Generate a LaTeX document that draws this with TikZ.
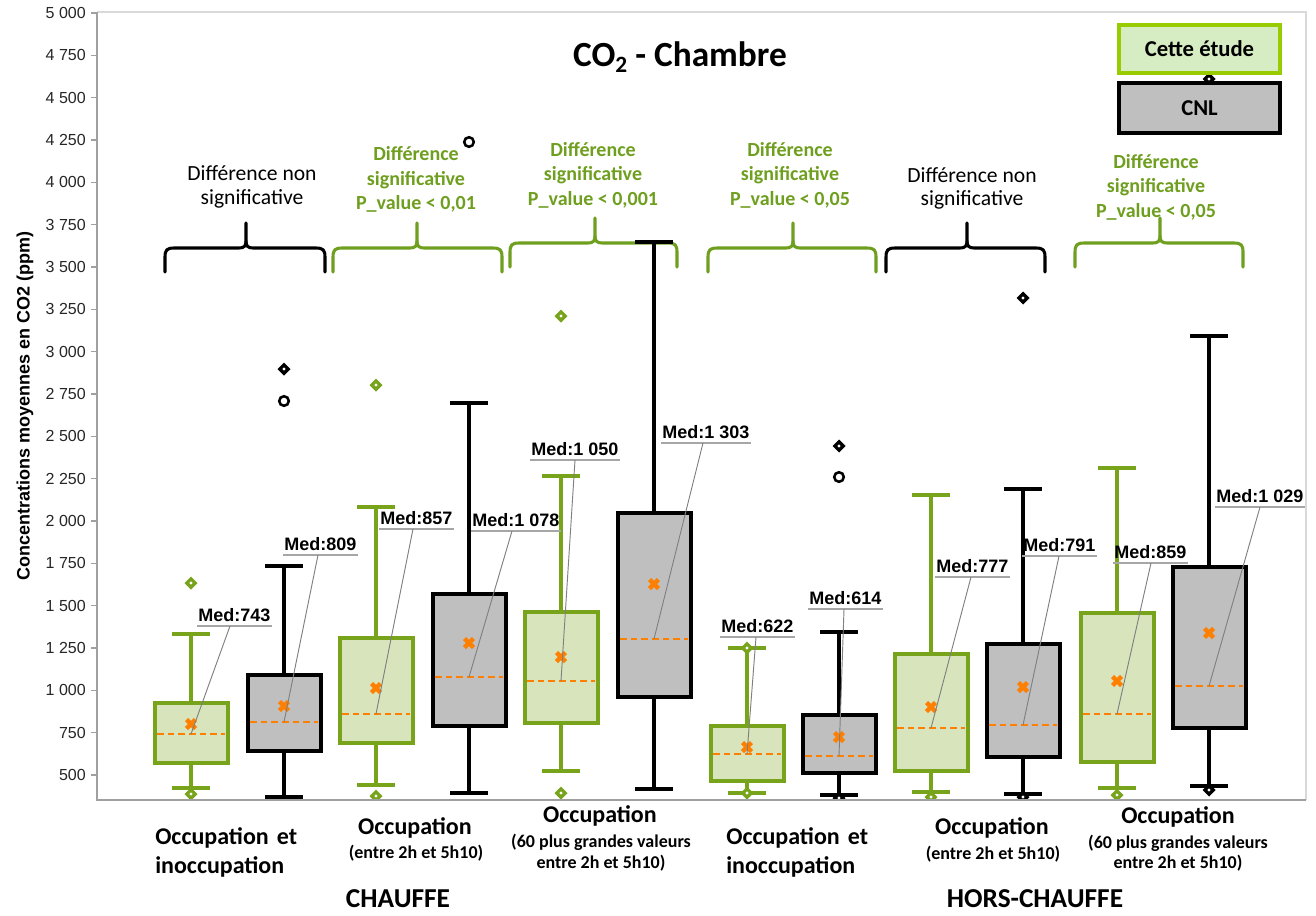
\documentclass[tikz,border=0pt]{standalone}
\usepackage{fontspec}
\setmainfont{Carlito}
\newfontfamily\arialf{Liberation Sans}
\definecolor{grnC}{HTML}{77A41B}
\definecolor{grnF}{HTML}{D8E4BC}
\definecolor{grnT}{HTML}{6F9F1F}
\definecolor{grayF}{HTML}{BFBFBF}
\definecolor{orng}{HTML}{FF7F00}
\definecolor{axisC}{HTML}{A0A0A0}
\definecolor{frameC}{HTML}{D9D9D9}
\definecolor{legG}{HTML}{99CC00}
\definecolor{legF}{HTML}{D6EDC4}
\definecolor{leadC}{HTML}{808080}
\definecolor{ulC}{HTML}{A6A6A6}
\tikzset{
 gwh/.style={draw=grnC, line width=3pt},
 kwh/.style={draw=black, line width=3pt},
 gbx/.style={draw=grnC, fill=grnF, line width=3pt},
 kbx/.style={draw=black, fill=grayF, line width=3pt},
 meddash/.style={draw=orng, line width=1.4pt, dash pattern=on 5pt off 3pt},
 meanst/.style={draw=orng, line width=3.4pt},
 bracest/.style={line width=2.3pt, line cap=round, line join=round},
 medtxt/.style={font=\arialf\bfseries\fontsize{13.5}{16}\selectfont, inner xsep=0.75pt, inner ysep=3pt},
 ulst/.style={draw=ulC, line width=1.2pt},
 leaderst/.style={draw=leadC, line width=0.7pt},
 ticklab/.style={font=\arialf\fontsize{12}{14}\selectfont, text=black!85, inner sep=0pt},
 sigtxt/.style={font=\bfseries\fontsize{15}{18.3}\selectfont, text=grnT, align=center, inner sep=0pt},
 nsigtxt/.style={font=\fontsize{16.2}{17.5}\selectfont, align=center, inner sep=0pt},
 catA/.style={font=\bfseries\fontsize{18}{22}\selectfont, inner sep=0pt},
 catB/.style={font=\bfseries\fontsize{13.5}{16}\selectfont, inner sep=0pt},
 seasonst/.style={font=\bfseries\fontsize{20.5}{24}\selectfont, inner sep=0pt},
}
% box: cx, top, bottom, median, mean, whisker top, whisker bottom, g/k, index
\newcommand\drawbox[9]{%
 \draw[#8wh] (#1,#6) -- (#1,#2) (#1,#3) -- (#1,#7) (#1-19,#6) -- (#1+19,#6) (#1-19,#7) -- (#1+19,#7);
 \draw[#8bx] (#1-36.5,#2) rectangle (#1+36.5,#3);
 \coordinate (m#9) at (#1,#4);
 \draw[meddash] (#1-34,#4) -- (#1+34,#4);
 \draw[meanst] (#1-4.5,#5-4.5) -- (#1+4.5,#5+4.5) (#1-4.5,#5+4.5) -- (#1+4.5,#5-4.5);
}
\newcommand\dmd[3]{\fill[#1] (#2,#3-6.5) -- (#2+6.5,#3) -- (#2,#3+6.5) -- (#2-6.5,#3) -- cycle; \fill[white] (#2,#3) circle (1.2pt);}
\newcommand\circo[2]{\draw[black, line width=1.9pt] (#1,#2) circle (3.6pt);}
\newcommand\medlabel[5]{%
 \node[medtxt, anchor=south west] (ml#1) at (#3,#4) {#2};
 \draw[ulst] (ml#1.south west) -- (ml#1.south east);
 \coordinate (mla#1) at (#5,#4);
 \draw[leaderst] (mla#1) -- (m#1);
}
% brace: L, R, tip x, h, tip y, bottom, color
\newcommand\brc[7]{%
 \draw[bracest,#7] (#1,#6) -- (#1,#4+9) .. controls (#1,#4+2) and (#1+2,#4) .. (#1+9,#4) -- (#3-7,#4) .. controls (#3-2,#4) and (#3,#4-2) .. (#3,#4-7) -- (#3,#5);
 \draw[bracest,#7] (#3,#4-7) .. controls (#3,#4-2) and (#3+2,#4) .. (#3+7,#4) -- (#2-9,#4) .. controls (#2-2,#4) and (#2,#4+2) .. (#2,#4+9) -- (#2,#6);
}
\begin{document}
\begin{tikzpicture}[x=0.75pt,y=-0.75pt]
\useasboundingbox (0,0) rectangle (1316,915);
\fill[white] (0,0) rectangle (1316,915);
% frame
\draw[frameC, line width=1pt] (97,12) -- (1306,12) -- (1306,800);
% ticks
\foreach \v/\t in {500/500,750/750,1000/1 000,1250/1 250,1500/1 500,1750/1 750,2000/2 000,2250/2 250,2500/2 500,2750/2 750,3000/3 000,3250/3 250,3500/3 500,3750/3 750,4000/4 000,4250/4 250,4500/4 500,4750/4 750,5000/5 000}{
 \pgfmathsetmacro\yy{775-(\v-500)*0.169333}
 \draw[axisC, line width=1pt] (91,\yy) -- (97,\yy);
 \node[ticklab, anchor=east] (t\v) at (86,\yy) {\t};
}
\node[rotate=90, font=\arialf\bfseries\fontsize{13.5}{16}\selectfont, inner sep=0pt] (ytitle) at (25,406) {Concentrations moyennes en CO2 (ppm)};
% title
\node[font=\bfseries\fontsize{26.5}{31}\selectfont, inner sep=0pt] (title) at (680,57) {CO{\fontsize{17.5}{20}\selectfont\raisebox{-4pt}{2}} - Chambre};
% braces
\brc{165}{325}{246}{248}{223}{272}{black}
\brc{333}{502}{417}{248}{223}{272}{grnT}
\brc{510}{677}{595}{243}{218}{267}{grnT}
\brc{708}{876}{793}{248}{223}{272}{grnT}
\brc{886}{1045}{967}{248}{223}{272}{black}
\brc{1075}{1243}{1160}{243}{218}{267}{grnT}
% brace labels
\node[nsigtxt] (s1) at (252,187) {Différence non\\significative};
\node[sigtxt] (s2) at (416,179.5) {Différence\\significative\\P\_value < 0,01};
\node[sigtxt] (s3) at (593,175) {Différence\\significative\\P\_value < 0,001};
\node[sigtxt] (s4) at (790,175) {Différence\\significative\\P\_value < 0,05};
\node[nsigtxt] (s5) at (972,188.5) {Différence non\\significative};
\node[sigtxt] (s6) at (1156,187) {Différence\\significative\\P\_value < 0,05};
% plot content
\begin{scope}
\clip (97,12) rectangle (1306,800);
\drawbox{191}{703}{763}{734}{724}{634}{788}{g}{1}
\drawbox{284}{675}{751}{722}{706}{566}{797}{k}{2}
\drawbox{376}{638}{743}{714}{688}{507}{785}{g}{3}
\drawbox{469}{594}{726}{677}{643}{403}{793}{k}{4}
\drawbox{561}{612}{723}{681}{657}{476}{771}{g}{5}
\drawbox{654}{513}{697}{639}{584}{242}{789}{k}{6}
\drawbox{747}{726}{781}{754}{747}{648}{793}{g}{7}
\drawbox{839}{715}{773}{756}{737}{632}{795}{k}{8}
\drawbox{931}{654}{771}{728}{707}{495}{792}{g}{9}
\drawbox{1023}{644}{757}{725}{687}{489}{794}{k}{10}
\drawbox{1117}{613}{762}{714}{681}{468}{788}{g}{11}
\drawbox{1209}{567}{728}{686}{633}{336}{786}{k}{12}
% outliers
\dmd{grnC}{191}{583} \dmd{grnC}{191}{794}
\dmd{black}{284}{369} \circo{284}{401}
\dmd{grnC}{376}{385} \dmd{grnC}{376}{796}
\circo{469}{142}
\dmd{grnC}{561}{316} \dmd{grnC}{561}{793}
\dmd{grnC}{747}{648} \dmd{grnC}{747}{793}
\dmd{black}{839}{446} \circo{839}{477} \dmd{black}{839}{798}
\dmd{grnC}{931}{797}
\dmd{black}{1023}{298} \dmd{black}{1023}{797}
\dmd{grnC}{1117}{795}
\dmd{black}{1209}{790} \dmd{black}{1209}{79}
\end{scope}
% axes
\draw[axisC, line width=1.3pt] (97,12) -- (97,800) -- (1306,800);
% median labels
\medlabel{1}{Med:743}{197}{626}{230}
\medlabel{2}{Med:809}{283}{555}{318}
\medlabel{3}{Med:857}{379}{529}{413}
\medlabel{4}{Med:1 078}{471}{531}{512}
\medlabel{5}{Med:1 050}{530}{460}{575}
\medlabel{6}{Med:1 303}{661}{443}{703}
\medlabel{7}{Med:622}{720}{637}{756}
\medlabel{8}{Med:614}{808}{609}{844}
\medlabel{9}{Med:777}{935}{577}{971}
\medlabel{10}{Med:791}{1022}{556}{1059}
\medlabel{11}{Med:859}{1113}{563}{1151}
\medlabel{12}{Med:1 029}{1215}{507}{1260}
% legend
\node[draw=legG, fill=legF, line width=3pt, minimum width=120.75pt, minimum height=36pt, inner sep=0pt, font=\bfseries\fontsize{17}{20}\selectfont] (legA) at (1199.5,49) {Cette étude\hspace{8pt}};
\node[draw=black, fill=grayF, line width=3pt, minimum width=120.75pt, minimum height=37.5pt, inner sep=0pt, font=\bfseries\fontsize{17}{20}\selectfont] (legB) at (1199.5,108) {CNL};
% category labels
\node[catA, anchor=west] (ca1) at (155,838) {Occupation\hspace{2pt} et};
\node[catA, anchor=west] (ca2) at (155,867) {inoccupation};
\node[catA] (cb1) at (415,828) {Occupation};
\node[catB] (cb2) at (416,853) {(entre 2h et 5h10)};
\node[catA] (cc1) at (600,816) {Occupation};
\node[catB] (cc2) at (601,842) {(60 plus grandes valeurs};
\node[catB] (cc3) at (601,863) {entre 2h et 5h10)};
\node[seasonst] (ch) at (398,899) {CHAUFFE};
\node[catA, anchor=west] (cd1) at (726,838) {Occupation\hspace{2pt} et};
\node[catA, anchor=west] (cd2) at (726,867) {inoccupation};
\node[catA] (ce1) at (992,828) {Occupation};
\node[catB] (ce2) at (993,854) {(entre 2h et 5h10)};
\node[catA] (cf1) at (1178,817) {Occupation};
\node[catB] (cf2) at (1178,843) {(60 plus grandes valeurs};
\node[catB] (cf3) at (1178,863) {entre 2h et 5h10)};
\node[seasonst] (hc) at (1035,899) {HORS-CHAUFFE};
\end{tikzpicture}
\end{document}
